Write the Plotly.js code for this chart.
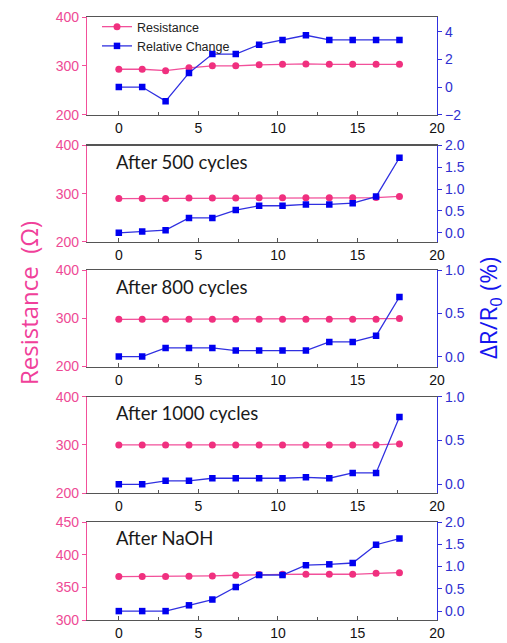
<!DOCTYPE html>
<html>
<head>
<meta charset="utf-8">
<script src="https://cdn.plot.ly/plotly-3.0.1.min.js"></script>
<style>html,body{margin:0;padding:0;background:#fff;}#chart{width:507px;height:643px;}</style>
</head>
<body>
<div id="chart"></div>
<script>
// ---- data ----
const xValues = [0, 1.47, 2.94, 4.41, 5.88, 7.35, 8.82, 10.29, 11.76, 13.23, 14.7, 16.17, 17.64];

const resInitial = [293, 293, 290, 296, 300, 300, 302, 303, 304, 303, 303, 303, 303];
const relInitial = [0, 0, -1.02, 1.02, 2.39, 2.39, 3.07, 3.41, 3.75, 3.41, 3.41, 3.41, 3.41];

const res500 = [290, 290, 290, 291, 291, 291, 291.5, 291.5, 291.5, 291.5, 291.5, 292, 294.5];
const rel500 = [0, 0.03, 0.06, 0.34, 0.34, 0.52, 0.62, 0.62, 0.65, 0.65, 0.68, 0.83, 1.72];

const res800 = [298, 298, 298, 298, 298, 298, 298, 298, 298, 298, 298, 298, 299.5];
const rel800 = [0, 0, 0.10, 0.10, 0.10, 0.07, 0.07, 0.07, 0.07, 0.17, 0.17, 0.24, 0.69];

const res1000 = [300, 300, 300, 300, 300, 300, 300, 300, 300, 300, 300, 300, 302];
const rel1000 = [0, 0, 0.04, 0.04, 0.07, 0.07, 0.07, 0.07, 0.08, 0.07, 0.13, 0.13, 0.77];

const resNaOH = [366.5, 366.5, 366.5, 367, 367.5, 368.5, 369.5, 370, 370, 370, 370, 371.5, 372.5];
const relNaOH = [0, 0, 0, 0.13, 0.26, 0.54, 0.81, 0.81, 1.03, 1.05, 1.08, 1.49, 1.63];

const panelLabels = ["", "After 500 cycles", "After 800 cycles", "After 1000 cycles", "After NaOH"];
const legendNames = ["Resistance", "Relative Change"];
const xTicks = [0, 5, 10, 15, 20];

// ---- styling ----
const PINK = "#f0307f";
const PINK_LINE = "#f2509a";
const PINK_TXT = "#ee4a95";
const BLUE = "#0000f0";
const BLUE_LINE = "#3030e0";
const BLUE_TXT = "#2f2fd0";
const GRAY = "#555555";

const resSeries = [resInitial, res500, res800, res1000, resNaOH];
const relSeries = [relInitial, rel500, rel800, rel1000, relNaOH];
const leftRanges = [[200, 400], [200, 400], [200, 400], [200, 400], [300, 450]];
const leftDticks = [100, 100, 100, 100, 50];
const rightRanges = [[-2, 5.07], [-0.21, 2.0], [-0.115, 1.0], [-0.1, 1.0], [-0.2, 2.0]];
const rightDticks = [2, 0.5, 0.5, 0.5, 0.5];
const rightFormats = ["d", ".1f", ".1f", ".1f", ".1f"];

// page pixel frames: [top, bottom]
const H = 643, T = 15, B = 23;
const plotH = H - T - B;
const frames = [[15, 113], [144, 240.7], [269, 365.7], [396, 492.7], [521.7, 620]];
const toPaper = y => (H - B - y) / plotH;

const data = [];
const layout = {
  width: 507, height: 643,
  margin: {l: 87, r: 70, t: T, b: B},
  paper_bgcolor: "#fff", plot_bgcolor: "#fff",
  showlegend: true,
  legend: {x: 10 / 350, y: 1 + 5 / plotH, xanchor: "left", yanchor: "top", bgcolor: "rgba(0,0,0,0)",
           font: {family: "Liberation Sans, Arial", size: 12.5, color: "#222"}, tracegroupgap: 0},
  annotations: [],
  font: {family: "Liberation Sans, Arial"}
};

for (let i = 0; i < 5; i++) {
  const xa = "x" + (i + 1);
  const yl = "y" + (2 * i + 1);
  const yr = "y" + (2 * i + 2);
  const xKey = "xaxis" + (i === 0 ? "" : i + 1);
  const ylKey = "yaxis" + (2 * i + 1 === 1 ? "" : 2 * i + 1);
  const yrKey = "yaxis" + (2 * i + 2);
  const dom = [toPaper(frames[i][1]), toPaper(frames[i][0])];

  data.push({
    x: xValues, y: resSeries[i], xaxis: xa, yaxis: yl, type: "scatter", mode: "lines+markers",
    name: legendNames[0], showlegend: i === 0,
    line: {color: PINK_LINE, width: 1.3}, marker: {color: PINK, size: 7, symbol: "circle"}
  });
  data.push({
    x: xValues, y: relSeries[i], xaxis: xa, yaxis: yr, type: "scatter", mode: "lines+markers",
    name: legendNames[1], showlegend: i === 0,
    line: {color: BLUE_LINE, width: 1.3}, marker: {color: BLUE, size: 6.5, symbol: "square"}
  });

  layout[xKey] = {
    domain: [0, 1], anchor: yl, range: [-2, 20], tickvals: xTicks,
    showgrid: false, zeroline: false, showline: true, linecolor: GRAY, linewidth: 1.2, mirror: true,
    ticks: "inside", ticklen: 4, tickcolor: GRAY,
    minor: {dtick: 2.5, tick0: 0, ticks: "inside", ticklen: 3, tickcolor: GRAY, showgrid: false},
    tickfont: {size: 14, color: "#111", family: "Liberation Sans, Arial"}
  };
  layout[ylKey] = {
    domain: dom, anchor: xa, range: leftRanges[i], dtick: leftDticks[i], tick0: 0,
    showgrid: false, zeroline: false, showline: true, linecolor: PINK_LINE, linewidth: 1.2,
    ticks: "outside", ticklen: 4, tickcolor: PINK_LINE,
    tickfont: {size: 14, color: PINK_TXT, family: "Liberation Sans, Arial"}
  };
  layout[yrKey] = {
    domain: dom, anchor: xa, overlaying: yl, side: "right", range: rightRanges[i],
    dtick: rightDticks[i], tick0: 0, tickformat: rightFormats[i],
    showgrid: false, zeroline: false, showline: true, linecolor: BLUE_LINE, linewidth: 1.2,
    ticks: "outside", ticklen: 4, tickcolor: BLUE_LINE,
    tickfont: {size: 14, color: BLUE_TXT, family: "Liberation Sans, Arial"}
  };

  if (panelLabels[i]) {
    layout.annotations.push({
      text: panelLabels[i], xref: "paper", yref: "paper",
      x: (114 - 87) / 350, y: toPaper(frames[i][0] + 16.5), xanchor: "left", yanchor: "middle",
      showarrow: false, font: {family: "Lato, Open Sans", size: 18.5, color: "#1a1a1a"}
    });
  }
}

layout.annotations.push({
  text: "Resistance  (Ω)", xref: "paper", yref: "paper", x: (28 - 87) / 350, y: toPaper(302),
  xanchor: "center", yanchor: "middle", textangle: -90, showarrow: false,
  font: {family: "Open Sans", size: 24, color: "#f0409a"}
});
layout.annotations.push({
  text: "ΔR/R<sub>0</sub> (%)", xref: "paper", yref: "paper", x: (489 - 87) / 350, y: toPaper(307),
  xanchor: "center", yanchor: "middle", textangle: -90, showarrow: false,
  font: {family: "Open Sans", size: 24, color: "#1515ee"}
});

Plotly.newPlot("chart", data, layout, {displayModeBar: false, staticPlot: true});
</script>
</body>
</html>
